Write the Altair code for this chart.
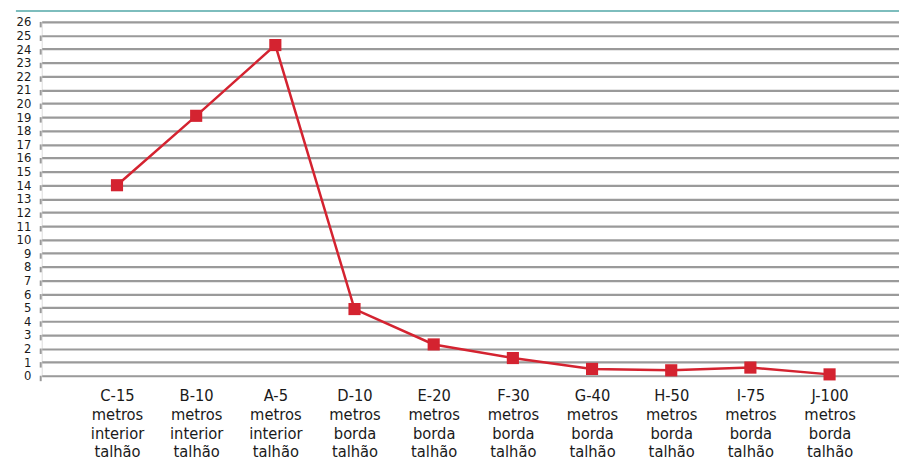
import json
import altair as alt
import pandas as pd

categories = [
    "C-15\nmetros\ninterior\ntalhão",
    "B-10\nmetros\ninterior\ntalhão",
    "A-5\nmetros\ninterior\ntalhão",
    "D-10\nmetros\nborda\ntalhão",
    "E-20\nmetros\nborda\ntalhão",
    "F-30\nmetros\nborda\ntalhão",
    "G-40\nmetros\nborda\ntalhão",
    "H-50\nmetros\nborda\ntalhão",
    "I-75\nmetros\nborda\ntalhão",
    "J-100\nmetros\nborda\ntalhão",
]
values = [14.0, 19.1, 24.3, 4.9, 2.3, 1.3, 0.5, 0.4, 0.6, 0.1]
y_ticks = list(range(0, 27))

FONT = "Liberation Sans Narrow, DejaVu Sans Condensed, Roboto, sans-serif"
RED = "#d42330"

df = pd.DataFrame({"idx": list(range(len(categories))), "cat": categories, "val": values})
ticks_df = pd.DataFrame({"t": y_ticks, "t2": [t - 0.4 for t in y_ticks]})

cat_js = json.dumps(categories, ensure_ascii=False)

x_axis = alt.Axis(
    title=None,
    values=list(range(len(categories))),
    labelAngle=0,
    labelExpr=f"split({cat_js}[datum.value], '\\n')",
    labelFont=FONT,
    labelFontSize=16.5,
    labelLineHeight=19,
    labelColor="#1a1a1a",
    labelPadding=12,
    labelOverlap=False,
    labelFlush=False,
    domain=False,
    ticks=False,
    grid=False,
    labelBaseline="top",
)
x_scale = alt.Scale(domain=[-0.951, 9.877], nice=False, zero=False)

y_axis = alt.Axis(
    title=None,
    values=y_ticks,
    labelFont=FONT,
    labelFontSize=13,
    labelColor="#1a1a1a",
    labelPadding=11,
    labelOverlap=False,
    domain=False,
    ticks=False,
    grid=True,
    gridColor="#9a9a9a",
    gridWidth=2.2,
)
y_scale = alt.Scale(domain=[0, 26], nice=False)

base = alt.Chart(df)

line = base.mark_line(color=RED, strokeWidth=2.5).encode(
    x=alt.X("idx:Q", scale=x_scale, axis=x_axis),
    y=alt.Y("val:Q", scale=y_scale, axis=y_axis),
)

points = base.mark_square(color=RED, size=150, opacity=1).encode(
    x=alt.X("idx:Q", scale=x_scale, axis=x_axis),
    y=alt.Y("val:Q", scale=y_scale, axis=y_axis),
)

tick_marks = alt.Chart(ticks_df).mark_rule(color="#9a9a9a", strokeWidth=2).encode(
    x=alt.value(-1),
    y=alt.Y("t:Q", scale=y_scale, axis=y_axis),
    y2="t2:Q",
)

top_rule = alt.Chart(pd.DataFrame({"a": [0]})).mark_rule(
    color="#7dbdbd", strokeWidth=2
).encode(x=alt.value(-26), x2=alt.value(865), y=alt.value(-11))

chart = (
    alt.layer(line, points, tick_marks, top_rule)
    .properties(
        width=865,
        height=357,
        autosize=alt.AutoSizeParams(type="none"),
        padding={"left": 34, "top": 12, "right": 0, "bottom": 85},
    )
    .configure_view(stroke=None)
    .configure(background="white")
)

chart.save("out.html", embed_options={"renderer": "svg", "actions": False})
